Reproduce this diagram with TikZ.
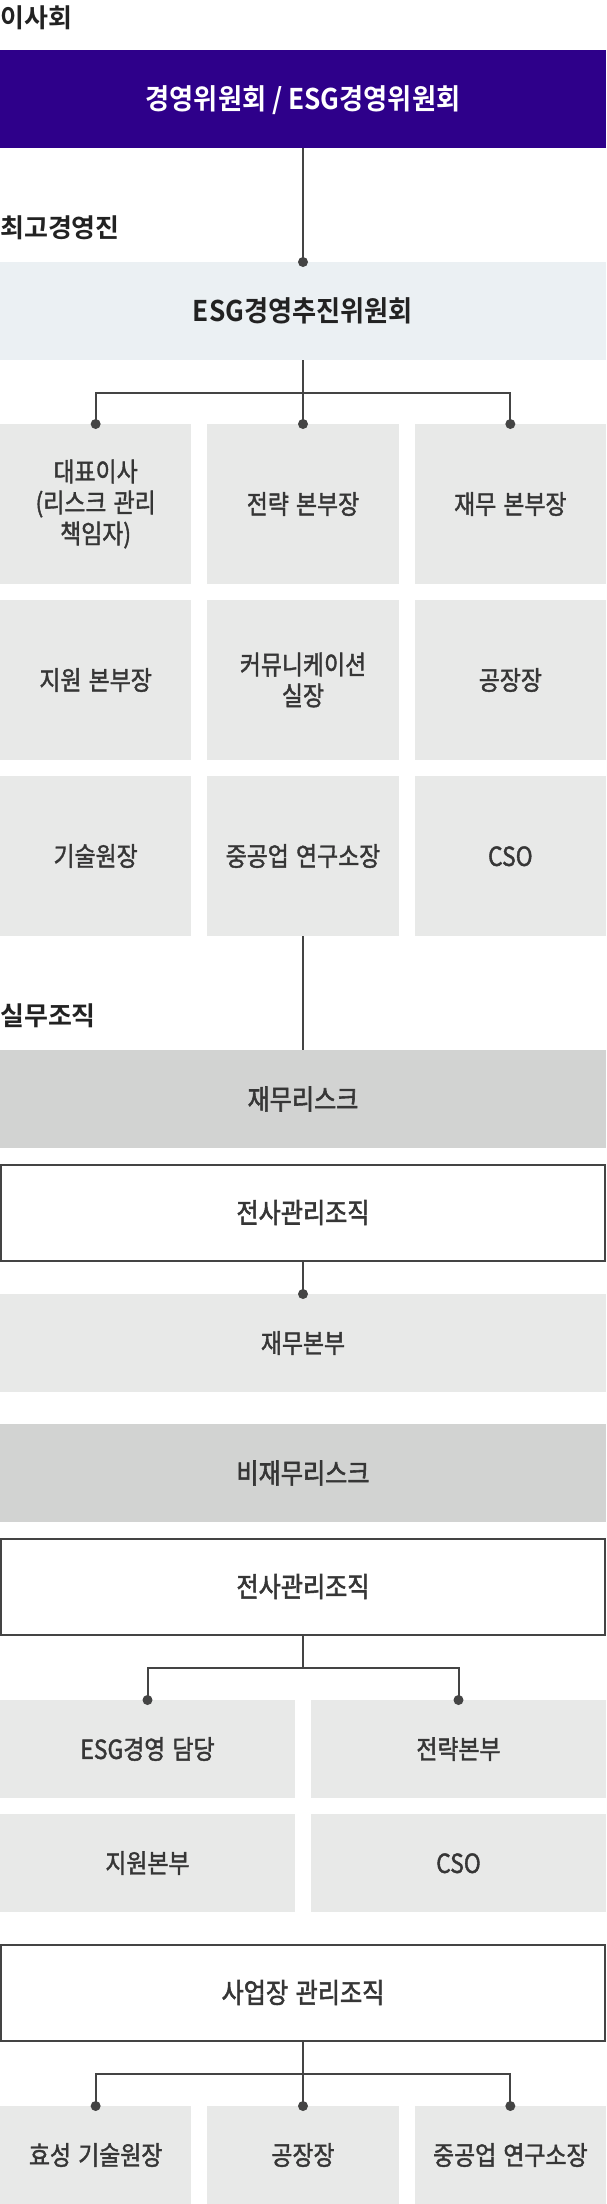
\documentclass[tikz,border=0pt]{standalone}
\usepackage{fontspec}
\setmainfont{Noto Sans CJK KR}
\newfontfamily\krbold[FakeStretch=0.92]{Noto Sans CJK KR Bold}
\newfontfamily\krlbl{Noto Sans CJK KR Bold}
\newfontfamily\krmed[FakeStretch=0.87,FakeBold=2,WordSpace=1.4]{Noto Sans CJK KR}
\newfontfamily\krreg[FakeStretch=0.87,FakeBold=1.5,WordSpace=1.4]{Noto Sans CJK KR}
\definecolor{purp}{HTML}{2E008A}
\definecolor{paleblue}{HTML}{EBF0F3}
\definecolor{palegrey}{HTML}{E8E9E8}
\definecolor{midgrey}{HTML}{D2D3D2}
\definecolor{linec}{HTML}{444444}
\definecolor{txtdark}{HTML}{222222}
\definecolor{txtgrey}{HTML}{363636}
\tikzset{
  lbl/.style={anchor=west,inner sep=0pt,text=txtdark,font=\krlbl\fontsize{26}{30}\selectfont},
  boxbase/.style={rectangle,inner sep=0pt,outer sep=0pt,align=center,text depth=0pt},
  multi/.style={text height=,text depth=},
  topbox/.style={boxbase,text height=21.4pt,fill=purp,text=white,minimum width=606pt,minimum height=98pt,font=\krbold\fontsize{28.5}{30}\selectfont},
  ceobox/.style={boxbase,text height=21.4pt,fill=paleblue,text=txtdark,minimum width=606pt,minimum height=98pt,font=\krbold\fontsize{28.5}{30}\selectfont},
  gridbox/.style={boxbase,text height=19.8pt,fill=palegrey,text=txtgrey,minimum width=191.3pt,minimum height=160pt,font=\krreg\fontsize{26.3}{31}\selectfont},
  riskbox/.style={boxbase,text height=20.8pt,fill=midgrey,text=txtgrey,minimum width=606pt,minimum height=98pt,font=\krmed\fontsize{27.7}{30}\selectfont},
  orgbox/.style={boxbase,text height=20.8pt,draw=linec,line width=2pt,fill=white,text=txtgrey,minimum width=604pt,minimum height=96pt,font=\krmed\fontsize{27.7}{30}\selectfont},
  widebox/.style={boxbase,text height=19.8pt,fill=palegrey,text=txtgrey,minimum width=606pt,minimum height=98pt,font=\krreg\fontsize{26.3}{31}\selectfont},
  halfbox/.style={boxbase,text height=19.8pt,fill=palegrey,text=txtgrey,minimum width=295pt,minimum height=98pt,font=\krreg\fontsize{26.3}{31}\selectfont},
  thirdbox/.style={boxbase,text height=19.8pt,fill=palegrey,text=txtgrey,minimum width=191.3pt,minimum height=98pt,font=\krreg\fontsize{26.3}{31}\selectfont},
  conn/.style={draw=linec,line width=2pt},
  dotc/.style={fill=linec}
}
\begin{document}
\begin{tikzpicture}[x=1pt,y=-1pt]
\useasboundingbox (0,0) rectangle (606,2204);
% labels
\node[lbl] (l1) at (0,17.5) {이사회};
\node[lbl] (l2) at (0,228) {최고경영진};
\node[lbl] (l3) at (0,1016) {실무조직};
% top
\node[topbox] (board) at (303,99) {경영위원회 / ESG경영위원회};
\node[ceobox] (esg) at (303,311) {ESG경영추진위원회};
% grid
\node[gridbox,multi] (g11) at (95.65,504) {대표이사\\(리스크 관리\\책임자)};
\node[gridbox] (g12) at (303,504) {전략 본부장};
\node[gridbox] (g13) at (510.35,504) {재무 본부장};
\node[gridbox] (g21) at (95.65,680) {지원 본부장};
\node[gridbox,multi] (g22) at (303,680) {커뮤니케이션\\실장};
\node[gridbox] (g23) at (510.35,680) {공장장};
\node[gridbox] (g31) at (95.65,856) {기술원장};
\node[gridbox] (g32) at (303,856) {중공업 연구소장};
\node[gridbox] (g33) at (510.35,856) {CSO};
% financial risk
\node[riskbox] (fin) at (303,1099) {재무리스크};
\node[orgbox] (corp1) at (303,1212.5) {전사관리조직};
\node[widebox] (findiv) at (303,1343) {재무본부};
% non-financial risk
\node[riskbox] (nonfin) at (303,1473) {비재무리스크};
\node[orgbox] (corp2) at (303,1586.5) {전사관리조직};
\node[halfbox] (h11) at (147.5,1749) {ESG경영 담당};
\node[halfbox] (h12) at (458.5,1749) {전략본부};
\node[halfbox] (h21) at (147.5,1863) {지원본부};
\node[halfbox] (h22) at (458.5,1863) {CSO};
\node[orgbox] (site) at (303,1992.5) {사업장 관리조직};
\node[thirdbox] (b1) at (95.65,2155) {효성 기술원장};
\node[thirdbox] (b2) at (303,2155) {공장장};
\node[thirdbox] (b3) at (510.35,2155) {중공업 연구소장};
% connectors
\draw[conn] (board.south) -- (esg.north);
\fill[dotc] (esg.north) circle (5pt);
\coordinate (j1) at (303,393);
\draw[conn] (esg.south) -- (j1);
\draw[conn] (g11.north) |- (j1) -| (g13.north);
\draw[conn] (j1) -- (g12.north);
\foreach \n in {g11,g12,g13} \fill[dotc] (\n.north) circle (5pt);
\draw[conn] (g32.south) -- (fin.north);
\draw[conn] (corp1.south) -- (findiv.north);
\fill[dotc] (findiv.north) circle (5pt);
\coordinate (j2) at (303,1668);
\draw[conn] (corp2.south) -- (j2);
\draw[conn] (h11.north) |- (j2) -| (h12.north);
\foreach \n in {h11,h12} \fill[dotc] (\n.north) circle (5pt);
\coordinate (j3) at (303,2074);
\draw[conn] (site.south) -- (j3);
\draw[conn] (b1.north) |- (j3) -| (b3.north);
\draw[conn] (j3) -- (b2.north);
\foreach \n in {b1,b2,b3} \fill[dotc] (\n.north) circle (5pt);
\end{tikzpicture}
\end{document}
